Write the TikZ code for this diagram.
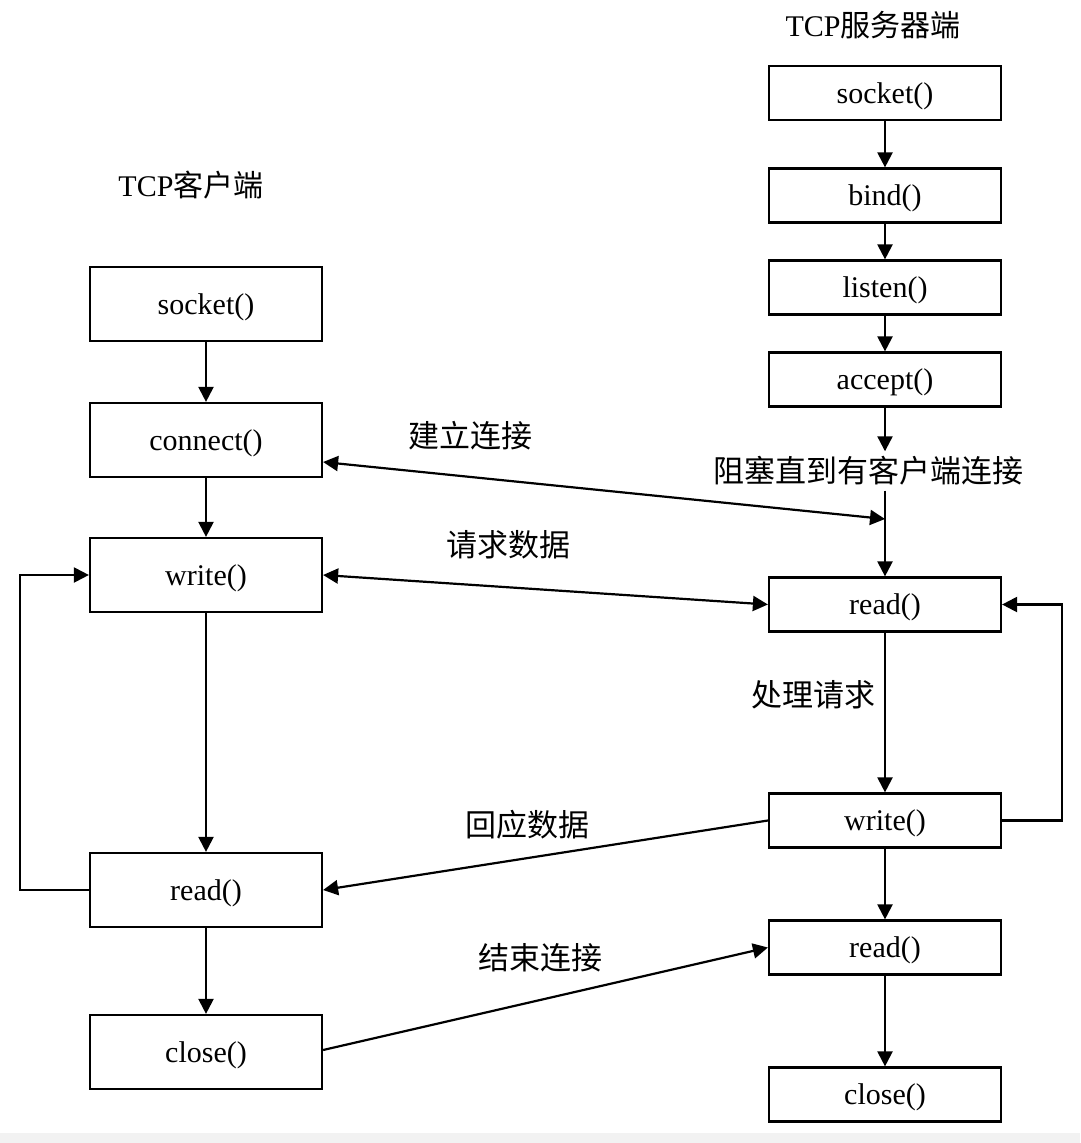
\documentclass[tikz,border=0pt]{standalone}
\usepackage{fontspec}
\setmainfont{Liberation Serif}
\newfontfamily\cjk{Noto Sans CJK SC}
\usetikzlibrary{arrows.meta,calc}
\begin{document}
\begin{tikzpicture}[x=1pt,y=-1pt,
  lbox/.style={draw, line width=2.2pt, minimum width=232pt, minimum height=74pt, inner sep=0pt, text depth=0pt, font=\fontsize{30}{34}\selectfont},
  rbox/.style={lbox, minimum height=54pt},
  lab/.style={font=\cjk\fontsize{31}{36}\selectfont, inner sep=0pt},
  ttl/.style={font=\fontsize{30}{36}\selectfont, inner sep=0pt},
  conn/.style={line width=2.2pt, -{Triangle[length=15pt,width=15pt]}},
  dconn/.style={line width=2.2pt, {Triangle[length=15pt,width=15pt]}-{Triangle[length=15pt,width=15pt]}}
]
\useasboundingbox (0,0) rectangle (1080,1143);
\fill[white] (0,0) rectangle (1080,1143);
\fill[black!5] (0,1133) rectangle (1080,1143);

% titles
\node[ttl] (tcps) at (873,25) {TCP{\cjk 服务器端}};
\node[ttl] (tcpc) at (191,185) {TCP{\cjk 客户端}};

% client column
\node[lbox] (L1) at (206,304) {socket()};
\node[lbox] (L2) at (206,440) {connect()};
\node[lbox] (L3) at (206,575) {write()};
\node[lbox] (L4) at (206,890) {read()};
\node[lbox] (L5) at (206,1052) {close()};

% server column
\node[rbox] (R1) at (885,93) {socket()};
\node[rbox] (R2) at (885,195.5) {bind()};
\node[rbox] (R3) at (885,287.5) {listen()};
\node[rbox] (R4) at (885,379.5) {accept()};
\node[rbox] (R5) at (885,604.5) {read()};
\node[rbox] (R6) at (885,820.5) {write()};
\node[rbox] (R7) at (885,947.5) {read()};
\node[rbox] (R8) at (885,1094.5) {close()};

% labels
\node[lab] (jl) at (470,436) {建立连接};
\node[lab, inner sep=5pt] (blk) at (868,471) {阻塞直到有客户端连接};
\node[lab] (qq) at (508,545) {请求数据};
\node[lab] (cl) at (813,695) {处理请求};
\node[lab] (hy) at (527,825) {回应数据};
\node[lab] (js) at (540,958) {结束连接};

\coordinate (jn) at (885,519);
\coordinate (lloop) at (20,890);
\coordinate (rloop) at (1062,820.5);

% client arrows
\draw[conn] (L1) -- (L2);
\draw[conn] (L2) -- (L3);
\draw[conn] (L3) -- (L4);
\draw[conn] (L4) -- (L5);
\draw[conn] (L4.west) -- (lloop) |- (L3.west);

% server arrows
\draw[conn] (R1) -- (R2);
\draw[conn] (R2) -- (R3);
\draw[conn] (R3) -- (R4);
\draw[conn] (R4.south) -- (R4.south |- blk.north);
\draw[conn] (R5.north |- blk.south) -- (R5.north);
\draw[conn] (R5) -- (R6);
\draw[conn] (R6) -- (R7);
\draw[conn] (R7) -- (R8);
\draw[conn] (R6.east) -- (rloop) |- (R5.east);

% cross arrows
\draw[dconn] ($(L2.east)+(0,22)$) -- (jn);
\draw[dconn] (L3.east) -- (R5.west);
\draw[conn] (R6.west) -- (L4.east);
\draw[conn] ($(L5.east)+(0,-2)$) -- (R7.west);
\end{tikzpicture}
\end{document}
